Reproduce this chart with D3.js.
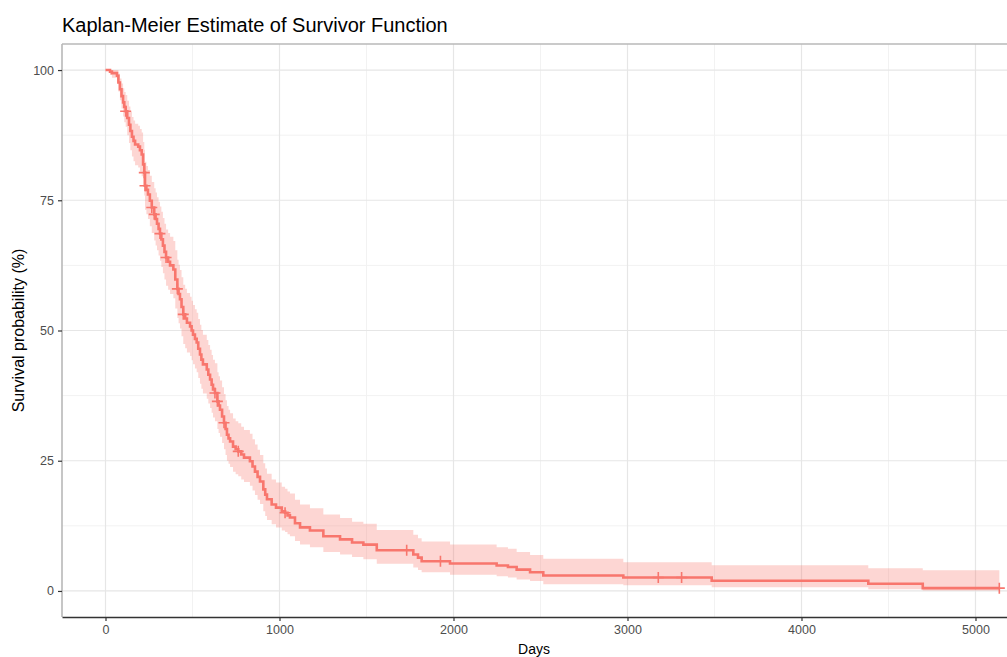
<!DOCTYPE html>
<html>
<head>
<meta charset="utf-8">
<script src="https://cdn.jsdelivr.net/npm/d3@7"></script>
<style>
  body { margin: 0; background: #fff; overflow: hidden; }
  text { font-family: 'Liberation Sans', Arial, sans-serif; }
</style>
</head>
<body>
<svg class="kmPlot" width="1007" height="657"></svg>
<script>
// step points of the Kaplan-Meier curve (days, survival %, 95% CI)
const days = [0, 26, 37, 66, 74, 83, 92, 101, 108, 116,
  125, 135, 143, 152, 161, 170, 188, 198, 208, 216,
  223, 227, 235, 244, 255, 266, 280, 288, 296, 305,
  313, 321, 330, 339, 348, 360, 371, 390, 401, 413,
  420, 428, 437, 447, 458, 468, 486, 495, 503, 514,
  524, 533, 543, 551, 560, 582, 591, 601, 610, 618,
  629, 643, 650, 658, 670, 681, 690, 698, 707, 716,
  733, 748, 763, 780, 796, 830, 845, 859, 874, 888,
  907, 918, 928, 955, 980, 1013, 1032, 1046, 1060, 1089,
  1118, 1175, 1252, 1348, 1417, 1482, 1559, 1769, 1796, 1817,
  1980, 2248, 2313, 2363, 2440, 2516, 2976, 3484, 4384, 4697,
  5137];
const surv = [100, 99.7, 99.4, 98.9, 97.6, 96.3, 95.0, 93.8, 92.9, 92.1,
  90.8, 89.5, 88.3, 87.2, 86.4, 85.7, 85.3, 84.6, 83.8, 81.9,
  80.3, 77.8, 77.0, 76.1, 74.9, 73.6, 72.3, 71.4, 70.5, 69.5,
  68.6, 67.5, 66.3, 65.1, 64.0, 63.2, 62.5, 61.7, 59.8, 58.0,
  57.0, 56.0, 54.5, 53.1, 52.3, 51.5, 50.8, 50.0, 49.2, 48.4,
  47.7, 46.5, 45.4, 44.4, 43.5, 42.5, 41.5, 40.6, 39.6, 38.7,
  38.0, 36.4, 35.6, 34.8, 33.5, 32.3, 31.1, 30.0, 29.3, 28.7,
  27.7, 27.2, 26.8, 26.2, 25.6, 24.9, 23.9, 22.9, 21.9, 21.0,
  19.5, 18.5, 17.6, 16.6, 16.0, 15.3, 15.0, 14.5, 14.1, 13.0,
  12.2, 11.6, 10.5, 9.9, 9.3, 8.9, 7.8, 7.0, 6.4, 5.7,
  5.28, 4.9, 4.6, 4.1, 3.6, 2.98, 2.59, 1.96, 1.38, 0.54,
  0.54];
const upper = [100, 100, 100, 100, 99.3, 98.4, 97.4, 96.5, 95.8, 95.2,
  94.1, 93.0, 92.0, 91.0, 90.3, 89.7, 89.3, 88.7, 88.0, 86.2,
  84.7, 82.4, 81.6, 80.8, 79.7, 78.5, 77.3, 76.5, 75.6, 74.7,
  73.8, 72.8, 71.6, 70.5, 69.4, 68.7, 68.0, 67.2, 65.4, 63.6,
  62.6, 61.6, 60.2, 58.8, 58.0, 57.2, 56.5, 55.7, 54.9, 54.1,
  53.4, 52.2, 51.1, 50.1, 49.2, 48.2, 47.2, 46.3, 45.3, 44.4,
  43.7, 42.0, 41.2, 40.4, 39.1, 37.8, 36.6, 35.5, 34.8, 34.1,
  33.1, 32.6, 32.2, 31.5, 30.9, 30.2, 29.1, 28.1, 27.1, 26.1,
  24.5, 23.5, 22.5, 21.4, 20.8, 20.0, 19.6, 19.1, 18.7, 17.5,
  16.6, 15.9, 14.7, 14.0, 13.3, 12.9, 11.7, 10.8, 10.1, 9.5,
  8.9, 8.4, 8.1, 7.5, 6.9, 6.2, 5.53, 4.95, 4.38, 3.99,
  3.99];
const lower = [100, 99.1, 98.5, 97.7, 95.9, 94.2, 92.6, 91.1, 90.0, 89.1,
  87.5, 86.0, 84.6, 83.4, 82.5, 81.7, 81.3, 80.5, 79.6, 77.6,
  75.9, 73.2, 72.3, 71.4, 70.0, 68.7, 67.3, 66.3, 65.4, 64.4,
  63.4, 62.2, 61.0, 59.8, 58.6, 57.8, 57.0, 56.2, 54.2, 52.4,
  51.4, 50.4, 48.9, 47.4, 46.6, 45.8, 45.1, 44.3, 43.5, 42.7,
  42.0, 40.9, 39.8, 38.8, 37.9, 36.9, 36.0, 35.1, 34.2, 33.3,
  32.6, 31.1, 30.3, 29.6, 28.4, 27.2, 26.1, 25.0, 24.4, 23.8,
  22.9, 22.4, 22.0, 21.4, 20.9, 20.2, 19.3, 18.4, 17.5, 16.7,
  15.3, 14.4, 13.6, 12.8, 12.2, 11.6, 11.3, 10.9, 10.5, 9.6,
  8.9, 8.4, 7.5, 7.0, 6.5, 6.1, 5.2, 4.5, 4.0, 3.6,
  3.1, 2.8, 2.6, 2.2, 1.9, 1.3, 1.1, 0.7, 0.35, 0.08,
  0.08];

// censored observations
const censorDays = [116, 223, 227, 266, 280, 313, 348, 413, 447, 629, 643, 681, 763, 1032, 1731, 1925, 3177, 3311, 5137];
const censorSurv = [92.1, 80.3, 77.8, 73.6, 72.3, 68.6, 64.0, 58.0, 53.1, 38.0, 36.4, 32.3, 26.8, 15.0, 7.8, 5.7, 2.59, 2.59, 0.54];

const xTicks = [0, 1000, 2000, 3000, 4000, 5000];
const xMinor = [500, 1500, 2500, 3500, 4500];
const yTicks = [0, 25, 50, 75, 100];
const yMinor = [12.5, 37.5, 62.5, 87.5];

const kmColor = '#F8766D';

const margin = {top: 44, left: 62, bottom: 40},
      width = 981,
      height = 657 - margin.top - margin.bottom;

const x = d3.scaleLinear().domain([-250, 5388]).range([0, width]);
const y = d3.scaleLinear().domain([-5, 105]).range([height, 0]);

const svgRoot = d3.select('svg.kmPlot');

svgRoot.append('text')
  .text('Kaplan-Meier Estimate of Survivor Function')
  .attr('x', margin.left)
  .attr('y', 32)
  .style('font-size', '20px')
  .style('fill', '#000');

const svg = svgRoot.append('g')
  .attr('transform', `translate(${margin.left}, ${margin.top})`);

// grid
svg.selectAll('line.minorX').data(xMinor).enter().append('line')
  .attr('x1', d => x(d)).attr('x2', d => x(d)).attr('y1', 0).attr('y2', height)
  .style('stroke', '#f2f2f2').style('stroke-width', 1);
svg.selectAll('line.minorY').data(yMinor).enter().append('line')
  .attr('y1', d => y(d)).attr('y2', d => y(d)).attr('x1', 0).attr('x2', width)
  .style('stroke', '#f2f2f2').style('stroke-width', 1);
svg.selectAll('line.majorX').data(xTicks).enter().append('line')
  .attr('x1', d => x(d)).attr('x2', d => x(d)).attr('y1', 0).attr('y2', height)
  .style('stroke', '#e6e6e6').style('stroke-width', 1.2);
svg.selectAll('line.majorY').data(yTicks).enter().append('line')
  .attr('y1', d => y(d)).attr('y2', d => y(d)).attr('x1', 0).attr('x2', width)
  .style('stroke', '#e6e6e6').style('stroke-width', 1.2);

const pts = days.map((d, i) => ({t: d, s: surv[i], hi: upper[i], lo: lower[i]}));

// confidence band
svg.append('path')
  .datum(pts)
  .attr('d', d3.area().curve(d3.curveStepAfter)
    .x(d => x(d.t)).y0(d => y(d.lo)).y1(d => y(d.hi)))
  .style('fill', kmColor)
  .style('fill-opacity', 0.3);

// survival curve
svg.append('path')
  .datum(pts)
  .attr('d', d3.line().curve(d3.curveStepAfter).x(d => x(d.t)).y(d => y(d.s)))
  .style('fill', 'none')
  .style('stroke', kmColor)
  .style('stroke-width', 2.6);

// censor marks
svg.selectAll('path.censor')
  .data(censorDays)
  .enter()
  .append('path')
  .attr('class', 'censor')
  .attr('transform', (d, i) => `translate(${x(d)}, ${y(censorSurv[i])})`)
  .attr('d', 'M-5.5,0H5.5M0,-5.5V5.5')
  .style('stroke', kmColor)
  .style('stroke-width', 1.6);

// panel border (top/left grey), bottom axis line dark
svg.append('line').attr('x1', 0).attr('x2', width).attr('y1', 0).attr('y2', 0)
  .style('stroke', '#b8b8b8').style('stroke-width', 1.6);
svg.append('line').attr('x1', 0).attr('x2', 0).attr('y1', 0).attr('y2', height)
  .style('stroke', '#b8b8b8').style('stroke-width', 1.6);

const xAxis = svg.append('g')
  .attr('transform', `translate(0, ${height})`)
  .call(d3.axisBottom(x).tickValues(xTicks).tickFormat(d3.format('d'))
    .tickSize(4).tickSizeOuter(0).tickPadding(4));
xAxis.select('.domain').style('stroke', '#333').style('stroke-width', 1.4);

const yAxis = svg.append('g')
  .call(d3.axisLeft(y).tickValues(yTicks).tickSize(4).tickSizeOuter(0).tickPadding(4));
yAxis.select('.domain').remove();

svg.selectAll('.tick line').style('stroke', '#333').style('stroke-width', 1.2);
svg.selectAll('.tick text')
  .style('font-family', "'Liberation Sans', Arial, sans-serif")
  .style('font-size', '12.5px')
  .style('fill', '#4d4d4d');

svgRoot.append('text')
  .text('Days')
  .attr('x', 534)
  .attr('y', 654)
  .style('text-anchor', 'middle')
  .style('font-size', '14px')
  .style('fill', '#000');

svgRoot.append('text')
  .text('Survival probability (%)')
  .attr('transform', `translate(24, ${margin.top + height / 2}) rotate(-90)`)
  .style('text-anchor', 'middle')
  .style('font-size', '16px')
  .style('fill', '#000');
</script>
</body>
</html>
